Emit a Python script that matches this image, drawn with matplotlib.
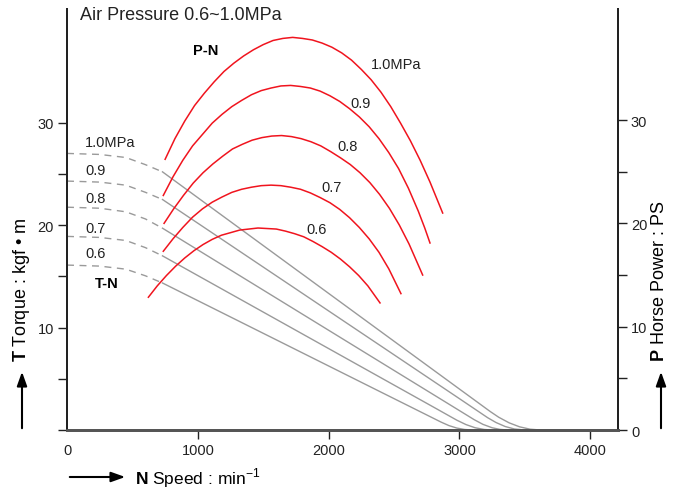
import matplotlib
matplotlib.use("Agg")
import matplotlib.pyplot as plt
from matplotlib.patches import FancyArrowPatch

plt.rcParams['font.family'] = ['Liberation Sans', 'DejaVu Sans']
plt.rcParams['mathtext.fontset'] = 'custom'
plt.rcParams['mathtext.rm'] = 'Liberation Sans'
plt.rcParams['mathtext.bf'] = 'Liberation Sans:bold'

pressures = ["1.0", "0.9", "0.8", "0.7", "0.6"]

# T-N (torque, kgf·m) - dashed start
tn_dash_speed = [0, 250, 450, 600, 730]
tn_dash = {
    "1.0": [27.0, 26.9, 26.6, 25.9, 25.2],
    "0.9": [24.3, 24.2, 23.9, 23.2, 22.5],
    "0.8": [21.75, 21.65, 21.3, 20.6, 19.7],
    "0.7": [18.9, 18.8, 18.5, 17.8, 17.0],
    "0.6": [16.1, 16.0, 15.7, 15.05, 14.35],
}
# T-N solid part
tn_speed = {
    "1.0": [730, 2400, 3000, 3236, 3300, 3380, 3460, 3540, 3620],
    "0.9": [730, 2400, 3000, 3216, 3280, 3350, 3420, 3500],
    "0.8": [730, 2400, 2900, 3114, 3180, 3250, 3310, 3370],
    "0.7": [730, 2400, 2800, 2980, 3050, 3120, 3190, 3250],
    "0.6": [730, 2400, 2700, 2860, 2920, 2980, 3040, 3100],
}
tn_torque = {
    "1.0": [25.2, 9.6, 4.0, 1.8, 1.25, 0.7, 0.31, 0.08, 0],
    "0.9": [22.5, 8.2, 3.06, 1.2, 0.73, 0.34, 0.1, 0],
    "0.8": [19.7, 6.6, 2.68, 1.0, 0.55, 0.22, 0.06, 0],
    "0.7": [17.0, 5.1, 2.25, 0.96, 0.53, 0.22, 0.05, 0],
    "0.6": [14.35, 3.7, 1.79, 0.77, 0.43, 0.19, 0.05, 0],
}

# P-N (horse power, PS)
pn_speed = {
    "1.0": [750, 825, 900, 975, 1050, 1125, 1200, 1275, 1350, 1425, 1500, 1575, 1650, 1725,
            1800, 1875, 1950, 2025, 2100, 2175, 2250, 2325, 2400, 2475, 2550, 2625, 2700, 2775, 2872],
    "0.9": [736, 810, 885, 960, 1035, 1110, 1185, 1260, 1335, 1410, 1485, 1560, 1635, 1710,
            1785, 1860, 1935, 2010, 2085, 2160, 2235, 2310, 2385, 2460, 2535, 2610, 2685, 2735, 2775],
    "0.8": [742, 815, 890, 965, 1040, 1115, 1190, 1265, 1340, 1415, 1490, 1565, 1640, 1715,
            1790, 1865, 1940, 2015, 2090, 2165, 2240, 2315, 2390, 2465, 2540, 2615, 2719],
    "0.7": [736, 810, 885, 960, 1035, 1110, 1185, 1260, 1335, 1410, 1485, 1560, 1635, 1710,
            1785, 1860, 1935, 2010, 2085, 2160, 2235, 2310, 2385, 2460, 2553],
    "0.6": [622, 690, 760, 830, 900, 970, 1040, 1110, 1180, 1250, 1320, 1390, 1460, 1530,
            1600, 1670, 1740, 1810, 1880, 1950, 2020, 2090, 2160, 2230, 2300, 2393],
}
pn_power = {
    "1.0": [26.2, 28.2, 29.9, 31.4, 32.6, 33.7, 34.7, 35.5, 36.2, 36.8, 37.3, 37.7, 37.9, 38.0,
            37.9, 37.75, 37.45, 37.05, 36.5, 35.8, 34.9, 33.9, 32.7, 31.3, 29.7, 28.0, 26.1, 24.0, 21.0],
    "0.9": [22.7, 24.5, 26.1, 27.5, 28.6, 29.7, 30.55, 31.3, 31.9, 32.45, 32.85, 33.1, 33.3, 33.35,
            33.25, 33.1, 32.8, 32.35, 31.8, 31.1, 30.3, 29.35, 28.2, 26.85, 25.3, 23.4, 21.2, 19.55, 18.1],
    "0.8": [20.0, 21.4, 22.7, 23.9, 24.9, 25.75, 26.5, 27.2, 27.65, 28.05, 28.3, 28.45, 28.5, 28.4,
            28.2, 27.9, 27.5, 26.95, 26.35, 25.7, 24.9, 23.95, 22.8, 21.45, 19.85, 18.0, 15.0],
    "0.7": [17.3, 18.5, 19.6, 20.6, 21.4, 22.05, 22.55, 23.0, 23.3, 23.5, 23.65, 23.7, 23.65, 23.5,
            23.3, 22.95, 22.5, 22.0, 21.35, 20.55, 19.6, 18.5, 17.2, 15.6, 13.2],
    "0.6": [12.85, 13.95, 14.95, 15.85, 16.65, 17.35, 17.95, 18.45, 18.85, 19.1, 19.35, 19.45, 19.55,
            19.5, 19.45, 19.25, 19.0, 18.7, 18.25, 17.75, 17.2, 16.55, 15.8, 14.95, 13.95, 12.3],
}

tn_label_text = ["1.0MPa", "0.9", "0.8", "0.7", "0.6"]
pn_label_text = ["1.0MPa", "0.9", "0.8", "0.7", "0.6"]

fig = plt.figure(figsize=(6.79, 4.89), dpi=100)
ax = fig.add_axes([0.0987, 0.1186, 0.8110, 0.8610])
ax2 = ax.twinx()

gray = "#9a9a9a"
red = "#f0141e"

for p in pressures:
    ax.plot(tn_dash_speed, tn_dash[p], color=gray, lw=1.0, dashes=(5, 4))
    ax.plot(tn_speed[p], tn_torque[p], color=gray, lw=1.0)
    ax2.plot(pn_speed[p], pn_power[p], color=red, lw=1.1)

ax.set_xlim(0, 4210)
ax.set_ylim(0, 41.1)
ax2.set_ylim(0, 40.75)

ax.set_xticks([0, 1000, 2000, 3000, 4000])
ax.set_xticklabels(["0", "1000", "2000", "3000", "4000"])
ax.set_yticks([0, 5, 10, 15, 20, 25, 30])
ax.set_yticklabels(["", "", "10", "", "20", "", "30"])
ax2.set_yticks([0, 5, 10, 15, 20, 25, 30])
ax2.set_yticklabels(["0", "", "10", "", "20", "", "30"])

for a in (ax, ax2):
    a.tick_params(direction="out", length=6.5, width=1.0, labelsize=10.5, colors="#222222", pad=3)
    a.spines["top"].set_visible(False)
    for s in ("left", "right"):
        a.spines[s].set_color("#222222")
        a.spines[s].set_linewidth(1.4)
    a.spines["bottom"].set_color("#555555")
    a.spines["bottom"].set_linewidth(2.0)
ax.xaxis.get_major_ticks()[0].tick1line.set_visible(False)

# curve labels
tn_label_y = [28.1, 25.4, 22.6, 19.7, 17.3]
for txt, y in zip(tn_label_text, tn_label_y):
    ax.text(138, y, txt, fontsize=10.5, va="center", ha="left", color="#222222")
pn_label_pos = [(2324, 35.7), (2163, 31.9), (2064, 27.7), (1942, 23.7), (1827, 19.6)]
for txt, (x, y) in zip(pn_label_text, pn_label_pos):
    ax.text(x, y, txt, fontsize=10.5, va="center", ha="left", color="#222222")

ax.text(214, 14.35, "T-N", fontsize=10.5, fontweight="bold", va="center", ha="left")
ax.text(963, 37.1, "P-N", fontsize=10.5, fontweight="bold", va="center", ha="left")
ax.text(99, 40.6, "Air Pressure 0.6~1.0MPa", fontsize=13, va="center", ha="left", color="#222222")

# axis titles with arrows
fig.text(22 / 679, 1 - 362 / 489, r"$\mathbf{T}$ Torque : kgf • m", rotation=90,
         ha="center", va="bottom", fontsize=13)
fig.text(660 / 679, 1 - 362 / 489, r"$\mathbf{P}$ Horse Power : PS", rotation=90,
         ha="center", va="bottom", fontsize=13)
fig.text(135 / 679, 1 - 478 / 489, r"$\mathbf{N}$ Speed : min$^{\mathrm{-1}}$",
         ha="left", va="center", fontsize=12.5)

arrow = dict(arrowstyle="-|>,head_length=0.7,head_width=0.25", color="black", lw=1.5)
fig.add_artist(FancyArrowPatch((22 / 679, 1 - 432 / 489), (22 / 679, 1 - 370 / 489),
                               transform=fig.transFigure, mutation_scale=12, **arrow))
fig.add_artist(FancyArrowPatch((661 / 679, 1 - 432 / 489), (661 / 679, 1 - 370 / 489),
                               transform=fig.transFigure, mutation_scale=12, **arrow))
fig.add_artist(FancyArrowPatch((67 / 679, 1 - 478 / 489), (128 / 679, 1 - 478 / 489),
                               transform=fig.transFigure, mutation_scale=12, **arrow))

fig.savefig("out.png", dpi=100)
